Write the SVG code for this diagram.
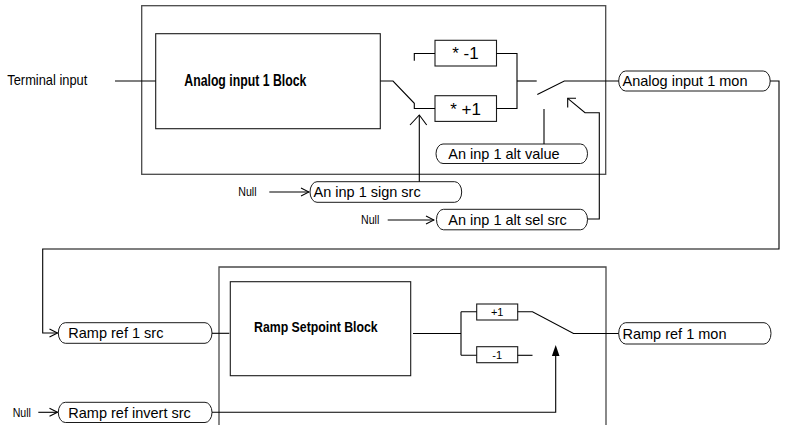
<svg xmlns="http://www.w3.org/2000/svg" width="785" height="425" viewBox="0 0 785 425">
<style>
.frame{fill:none;stroke:#4a4a4a;stroke-width:1.3}
.blk{fill:#fff;stroke:#1a1a1a;stroke-width:1.1}
.pill{fill:#fff;stroke:#1a1a1a;stroke-width:1}
.ln{fill:none;stroke:#000;stroke-width:1.1}
.t{font-family:"Liberation Sans",Arial,sans-serif;font-size:14.5px;fill:#000}
.big{font-size:17px}
.sm{font-size:11px}
.n{font-family:"Liberation Sans Narrow","Liberation Sans",Arial,sans-serif;fill:#000}
.b{font-family:"Liberation Sans Narrow","Liberation Sans",Arial,sans-serif;font-weight:bold;fill:#000}
</style>
<defs>
<marker id="open" markerWidth="10" markerHeight="10" refX="9" refY="5" orient="auto" markerUnits="userSpaceOnUse">
<path d="M1,1 L9,5 L1,9" fill="none" stroke="#000" stroke-width="1.1"/>
</marker>
</defs>

<g id="analog-frame">
<rect class="frame" x="141.7" y="5.7" width="464" height="168.6"/>
</g>
<g id="ramp-frame">
<path class="frame" d="M219,430 V267 H606 V430"/>
</g>

<g id="terminal-input">
<text class="n" x="7.3" y="85" font-size="15" textLength="80" lengthAdjust="spacingAndGlyphs">Terminal input</text>
</g>
<g id="analog-block">
<rect class="blk" x="155.7" y="33.7" width="224.6" height="95"/>
<text class="b" x="184.3" y="85.7" font-size="16" textLength="122" lengthAdjust="spacingAndGlyphs">Analog input 1 Block</text>
</g>
<g id="mul-neg">
<rect class="blk" x="435" y="40.3" width="61.5" height="25.7"/>
<text class="t big" x="465.5" y="59" text-anchor="middle">* -1</text>
</g>
<g id="mul-pos">
<rect class="blk" x="435" y="95.7" width="61.5" height="25.7"/>
<text class="t big" x="465.5" y="114.5" text-anchor="middle">* +1</text>
</g>
<g id="analog-mon">
<rect class="pill" x="618.7" y="71" width="151.5" height="20" rx="7" ry="10"/>
<text class="t" x="622.5" y="86">Analog input 1 mon</text>
</g>
<g id="alt-value">
<rect class="pill" x="436" y="144" width="151.5" height="19.5" rx="7" ry="9.75"/>
<text class="t" x="448.3" y="158.8">An inp 1 alt value</text>
</g>
<g id="sign-src">
<rect class="pill" x="310" y="181.7" width="151.7" height="20.6" rx="7" ry="10.3"/>
<text class="t" x="313.5" y="197.2">An inp 1 sign src</text>
</g>
<g id="alt-sel-src">
<rect class="pill" x="436.5" y="209.3" width="151" height="20.5" rx="7" ry="10.25"/>
<text class="t" x="448.3" y="224.5">An inp 1 alt sel src</text>
</g>
<g id="null1"><text class="n" x="238.3" y="196.3" font-size="13" textLength="18.3" lengthAdjust="spacingAndGlyphs">Null</text></g>
<g id="null2"><text class="n" x="361" y="223.5" font-size="13" textLength="18.3" lengthAdjust="spacingAndGlyphs">Null</text></g>
<g id="null3"><text class="n" x="12.7" y="416.5" font-size="13" textLength="18.3" lengthAdjust="spacingAndGlyphs">Null</text></g>

<g id="ramp-src">
<rect class="pill" x="58.3" y="322.7" width="153.7" height="20.6" rx="7" ry="10.3"/>
<text class="t" x="68.3" y="338.2">Ramp ref 1 src</text>
</g>
<g id="ramp-invert">
<rect class="pill" x="58.3" y="402.3" width="153.7" height="20.2" rx="7" ry="10.1"/>
<text class="t" x="68.3" y="417.6">Ramp ref invert src</text>
</g>
<g id="ramp-block">
<rect class="blk" x="230.3" y="281.7" width="180.4" height="94"/>
<text class="b" x="254" y="332.3" font-size="15" textLength="123.7" lengthAdjust="spacingAndGlyphs">Ramp Setpoint Block</text>
</g>
<g id="ramp-pos">
<rect class="blk" x="476.7" y="304" width="41" height="16"/>
<text class="t sm" x="497.2" y="316" text-anchor="middle">+1</text>
</g>
<g id="ramp-neg">
<rect class="blk" x="476.7" y="346.7" width="41" height="16"/>
<text class="t sm" x="497.2" y="358.7" text-anchor="middle">-1</text>
</g>
<g id="ramp-mon">
<rect class="pill" x="618.7" y="322.7" width="152.3" height="21.3" rx="7" ry="10.6"/>
<text class="t" x="622.5" y="338.7">Ramp ref 1 mon</text>
</g>

<g id="connectors">
<path class="ln" d="M115,81 H155.7"/>
<path class="ln" d="M380.3,81 H393 L414.3,103.3 V108.5 H435"/>
<path class="ln" d="M414.3,60.7 V53.5 H435"/>
<path class="ln" d="M496.5,53.5 H517 V108.5 H496.5" stroke-width="1.3"/>
<path class="ln" d="M517,81 H536.7"/>
<path class="ln" d="M537.3,94.5 L564.3,81 H618.7"/>
<path class="ln" d="M544,109 V144"/>
<path class="ln" d="M419.3,181.7 V115"/>
<path class="ln" d="M410,125 L419.3,115 L426.7,125"/>
<path class="ln" d="M587.5,219 H599.3 V112.7 H585 L567.7,98.3"/>
<path class="ln" d="M576,98.3 H567.7 V107.5"/>
<path class="ln" d="M269.3,192 H309" marker-end="url(#open)"/>
<path class="ln" d="M387.7,220 H434" marker-end="url(#open)"/>
<path class="ln" d="M770.2,81 H779 V249 H42.7 V333 H57.5" marker-end="url(#open)"/>
<path class="ln" d="M38.3,412.3 H57.5" marker-end="url(#open)"/>
<path class="ln" d="M212,333.3 H229.3"/>
<path class="ln" d="M413,333.5 H461 M461,311.7 V355.3 M461,311.7 H476.7 M461,355.3 H476.7"/>
<path class="ln" d="M517.7,311.7 H532.5 L573.5,333.5 H618.7"/>
<path class="ln" d="M517.7,355.3 H532.5"/>
<path class="ln" d="M212,412.3 H555.7 V354"/>
<path d="M555.7,345 L559.5,356 H551.9 Z" fill="#000"/>
</g>
</svg>
